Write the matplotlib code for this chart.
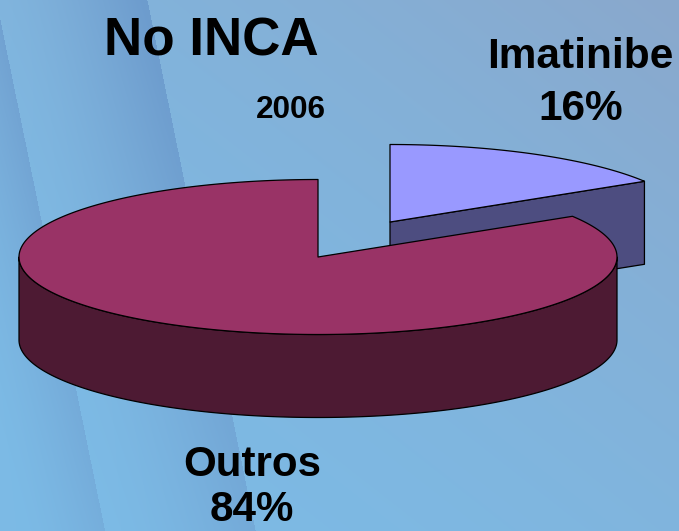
import numpy as np
import matplotlib
matplotlib.use("Agg")
import matplotlib.pyplot as plt

labels = ["Imatinibe", "Outros"]
shares = [16.2, 83.8]
title = "No INCA"
year = "2006"

W, H = 679, 531
RX, RY = 299, 77.5
DEPTH = 83
centers = {"Imatinibe": (390, 222), "Outros": (318, 257)}
top_cols = {"Imatinibe": "#9999FF", "Outros": "#993366"}
side_cols = {"Imatinibe": "#4D4D80", "Outros": "#4D1A33"}

plt.rcParams["font.family"] = ["Liberation Sans", "DejaVu Sans"]

fig = plt.figure(figsize=(W / 100, H / 100), dpi=100)
ax = fig.add_axes([0, 0, 1, 1])


def background():
    yy, xx = np.mgrid[0:H, 0:W]
    # soft diagonal wash, bottom left to top right
    s = (((xx / W) + (1 - yy / H)) / 2) ** 1.6
    light = np.array([124, 187, 230])
    far = np.array([138, 168, 204])
    img = light + (far - light) * s[..., None]
    # two slanted bands that get darker towards their right edge
    e1 = xx - (yy - 20) * 0.205
    e2 = xx - 147 - yy * 0.204
    band = np.where((e1 > 0) & (e2 < 0), np.clip(e1 / 147, 0, 1) ** 1.5, 0)
    left = np.where(e1 <= 0, np.clip(1 + e1 / 90, 0, 1) ** 1.5, 0) * 0.8
    # bands are weaker near the bottom
    fade = 0.95 - 0.45 * yy / H
    dark = np.array([108, 155, 205])
    amount = (np.maximum(band, left) * fade)[..., None]
    img = img + (dark - img) * amount
    ax.imshow(img.astype(np.uint8), extent=(0, W, H, 0), aspect="auto", zorder=0,
              interpolation="bilinear")


def rim(label, t, drop=0):
    cx, cy = centers[label]
    return cx + RX * np.cos(t), cy - RY * np.sin(t) + drop


background()

# slices start at 12 o'clock and go clockwise, as in the original
angle = np.pi / 2
spans = {}
for lab, v in zip(labels, shares):
    sweep = 2 * np.pi * v / sum(shares)
    spans[lab] = (angle - sweep, angle)
    angle -= sweep

edge = dict(edgecolor="black", linewidth=0.9, joinstyle="round")

# small slice: cut face then top
lab = "Imatinibe"
a0, a1 = spans[lab]
cx, cy = centers[lab]
rx, ry = rim(lab, a0)
ax.fill([cx, rx, rx, cx], [cy, ry, ry + DEPTH, cy + DEPTH], facecolor=side_cols[lab], zorder=2, **edge)
t = np.linspace(a0, a1, 120)
x, y = rim(lab, t)
ax.fill(np.r_[cx, x], np.r_[cy, y], facecolor=top_cols[lab], zorder=3, **edge)

# big slice: outer wall (only the front half shows) then top
lab = "Outros"
a0, a1 = spans[lab]
cx, cy = centers[lab]
t = np.linspace(-np.pi, 0, 240)
x, y = rim(lab, t)
ax.fill(np.r_[x, x[::-1]], np.r_[y, y[::-1] + DEPTH], facecolor=side_cols[lab], zorder=4, **edge)
t = np.linspace(a0, a1, 360)
x, y = rim(lab, t)
ax.fill(np.r_[cx, x], np.r_[cy, y], facecolor=top_cols[lab], zorder=5, **edge)

ax.text(211, 55, title, fontsize=38.2, fontweight="bold", ha="center", va="baseline", zorder=6)
ax.text(291, 118, year, fontsize=22.7, fontweight="bold", ha="center", va="baseline", zorder=6)
ax.text(580, 68, labels[0], fontsize=30.5, fontweight="bold", ha="center", va="baseline", zorder=6)
ax.text(581, 120, f"{shares[0]:.0f}%", fontsize=30.5, fontweight="bold", ha="center", va="baseline", zorder=6)
ax.text(252, 476, labels[1], fontsize=30.3, fontweight="bold", ha="center", va="baseline", zorder=6)
ax.text(252, 521, f"{shares[1]:.0f}%", fontsize=30.3, fontweight="bold", ha="center", va="baseline", zorder=6)

ax.set_xlim(0, W)
ax.set_ylim(H, 0)
ax.axis("off")

fig.savefig("out.png", dpi=100)
